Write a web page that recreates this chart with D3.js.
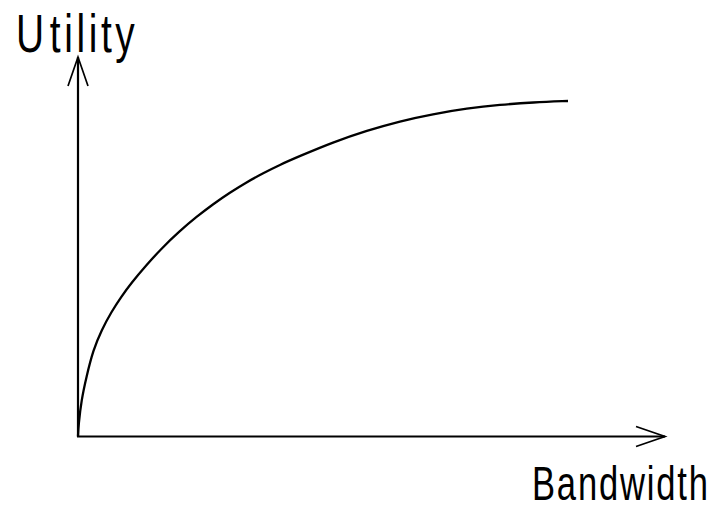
<!DOCTYPE html>
<html>
<head>
<meta charset="utf-8">
<script src="https://d3js.org/d3.v7.min.js"></script>
<style>
  body { margin: 0; background: #fff; }
  text { font-family: "Liberation Sans", Arial, sans-serif; fill: #000; }
</style>
</head>
<body>
<div id="chart"></div>
<script>
// utility curve (bandwidth 0..100, utility 0..100)
let bandwidth = [0, 0.1, 0.7, 1.7, 3.1, 4.8, 6.8, 8.8, 10.9, 13.9, 17.0, 20.8, 24.2, 27.6, 31.0, 34.4, 37.8, 41.2, 45.3, 52.0, 59.0, 65.7, 72.4, 79.4, 86.1, 92.9, 100];
let utility   = [0, 3.4, 10.9, 17.7, 25.8, 31.7, 37.1, 41.6, 45.8, 51.0, 56.0, 61.3, 65.5, 69.3, 72.7, 75.8, 78.5, 81.0, 83.6, 87.7, 91.2, 94.0, 96.1, 97.8, 98.9, 99.6, 100];

// axis ends (arrow tips), in data units
let xAxisEnd = 119.8;
let yAxisEnd = 113.1;

let xLabel = "Bandwidth";
let yLabel = "Utility";

let width = 720, height = 510;

let svg = d3.select("#chart")
    .append("svg")
    .attr("width", width)
    .attr("height", height);

let x = d3.scaleLinear().domain([0, 100]).range([78, 568]);
let y = d3.scaleLinear().domain([0, 100]).range([436.5, 101]);

let data = bandwidth.map((b, i) => ({b: b, u: utility[i]}));

// axes with arrow heads
let x0 = x(0), y0 = y(0), xe = x(xAxisEnd), ye = y(yAxisEnd);

svg.append("line")
    .attr("x1", x0 - 1).attr("y1", y0)
    .attr("x2", xe).attr("y2", y0)
    .attr("stroke", "#000").attr("stroke-width", 2.2);

svg.append("line")
    .attr("x1", x0).attr("y1", y0)
    .attr("x2", x0).attr("y2", ye)
    .attr("stroke", "#000").attr("stroke-width", 2.2);

svg.append("path")
    .attr("d", "M" + (xe - 29) + "," + (y0 - 10) + "L" + xe + "," + y0 + "L" + (xe - 29) + "," + (y0 + 10))
    .attr("fill", "none").attr("stroke", "#000").attr("stroke-width", 1.7);

svg.append("path")
    .attr("d", "M" + (x0 - 10) + "," + (ye + 29) + "L" + x0 + "," + ye + "L" + (x0 + 10) + "," + (ye + 29))
    .attr("fill", "none").attr("stroke", "#000").attr("stroke-width", 1.7);

// the curve
svg.append("path")
    .datum(data)
    .attr("fill", "none")
    .attr("stroke", "#000")
    .attr("stroke-width", 2.3)
    .attr("d", d3.line()
        .x(d => x(d.b))
        .y(d => y(d.u))
        .curve(d3.curveBasis));

// labels: narrow glyphs with wide spacing
let sx = 0.72;

let yl = svg.append("text")
    .attr("transform", "translate(16,52) scale(" + sx + ",1)")
    .attr("font-size", 54)
    .attr("letter-spacing", 5);
yl.append("tspan").text(yLabel.slice(0, 1));
yl.append("tspan").attr("dx", 3).text(yLabel.slice(1));

svg.append("text")
    .attr("transform", "translate(532,500) scale(" + sx + ",1)")
    .attr("font-size", 48)
    .attr("textLength", 176 / sx)
    .attr("lengthAdjust", "spacing")
    .text(xLabel);
</script>
</body>
</html>
